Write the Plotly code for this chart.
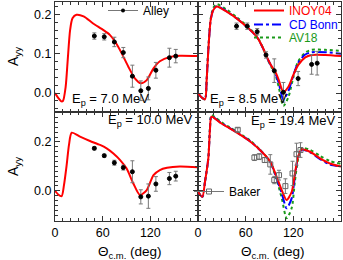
import plotly.graph_objects as go

W, H = 343, 260

# ---------------- data ----------------
# 7.0 MeV, INOY04 curve
th_70 = [0, 4, 8, 10, 13.4, 16, 19, 22, 27, 36, 48, 61, 69, 75.6, 84, 92.3, 100.8, 108, 115.5, 124, 132, 145, 157, 180]
inoy_70 = [0.0, -0.012, -0.021, -0.02, 0.016, 0.084, 0.16, 0.19, 0.199, 0.195, 0.177, 0.160, 0.148, 0.131, 0.101, 0.067, 0.037, 0.025, 0.033, 0.063, 0.081, 0.092, 0.095, 0.094]
# Alley 7.0 MeV data
alley70_th = [49.5, 62, 74.7, 86, 97.4, 108, 117.5, 127, 144, 152]
alley70_a = [0.145, 0.143, 0.13, 0.103, 0.043, 0.006, 0.012, 0.058, 0.09, 0.094]
alley70_e = [0.008, 0.008, 0.012, 0.013, 0.028, 0.025, 0.029, 0.02, 0.024, 0.017]

# 8.5 MeV curves
th_85 = [0, 4, 8.8, 10.9, 13, 16, 19.3, 23.5, 36, 48.5, 61, 74, 82, 86.6, 91.9, 97.5, 101.7, 107.5, 113.8, 120, 126, 135, 143, 160, 180]
inoy_85 = [0.0, -0.01, -0.016, 0.033, 0.11, 0.186, 0.211, 0.22, 0.207, 0.19, 0.169, 0.143, 0.114, 0.092, 0.071, 0.054, 0.033, 0.003, 0.016, 0.046, 0.071, 0.091, 0.097, 0.097, 0.094]
cdb_85 = [0.0, -0.01, -0.016, 0.033, 0.11, 0.186, 0.212, 0.221, 0.208, 0.19, 0.169, 0.143, 0.113, 0.091, 0.07, 0.05, 0.025, -0.016, 0.005, 0.045, 0.077, 0.098, 0.104, 0.104, 0.1]
av18_85 = [0.0, -0.01, -0.016, 0.035, 0.113, 0.19, 0.217, 0.226, 0.212, 0.193, 0.172, 0.145, 0.114, 0.09, 0.068, 0.046, 0.015, -0.033, -0.01, 0.04, 0.08, 0.103, 0.11, 0.11, 0.107]
# Alley 8.5 MeV data
alley85_th = [48.5, 62, 74.5, 85.6, 96, 107.5, 126, 143, 150]
alley85_a = [0.17, 0.17, 0.156, 0.097, 0.057, 0.002, 0.037, 0.073, 0.076]
alley85_e = [0.008, 0.008, 0.008, 0.008, 0.03, 0.025, 0.018, 0.025, 0.03]

# 10.0 MeV, INOY04 curve
th_100 = [0, 4, 8.4, 11.3, 14.7, 17.6, 21, 31.5, 44, 56.7, 65, 73.5, 82, 90, 98.6, 107, 115.5, 124, 132, 141, 157, 180]
inoy_100 = [0.0, -0.015, -0.022, 0.023, 0.106, 0.188, 0.238, 0.222, 0.204, 0.188, 0.174, 0.153, 0.126, 0.092, 0.03, -0.018, 0.003, 0.064, 0.085, 0.094, 0.099, 0.096]
# Alley 10.0 MeV data
alley100_th = [49.5, 62, 74.7, 86, 97.4, 108, 117.5, 127, 144, 152]
alley100_a = [0.174, 0.144, 0.115, 0.095, 0.078, -0.025, -0.022, 0.028, 0.05, 0.06]
alley100_e = [0.006, 0.006, 0.01, 0.01, 0.045, 0.029, 0.05, 0.03, 0.025, 0.02]

# 19.4 MeV curves
th_194 = [0, 5.5, 8.8, 13, 15, 16.8, 21, 29, 40, 50, 66, 78, 91, 99, 105.4, 111.6, 118, 122, 126, 130.6, 141, 153.6, 166, 180]
inoy_194 = [-0.004, -0.025, 0.037, 0.133, 0.25, 0.304, 0.297, 0.277, 0.256, 0.236, 0.201, 0.167, 0.119, 0.057, 0.003, -0.038, -0.004, 0.071, 0.14, 0.17, 0.16, 0.133, 0.112, 0.099]
cdb_194 = [-0.004, -0.025, 0.037, 0.133, 0.25, 0.305, 0.298, 0.278, 0.257, 0.237, 0.202, 0.167, 0.118, 0.05, -0.01, -0.072, -0.03, 0.06, 0.14, 0.168, 0.158, 0.13, 0.108, 0.1]
av18_194 = [-0.004, -0.025, 0.037, 0.135, 0.255, 0.31, 0.303, 0.282, 0.26, 0.24, 0.205, 0.169, 0.118, 0.045, -0.03, -0.113, -0.07, 0.04, 0.13, 0.175, 0.168, 0.143, 0.122, 0.11]
# Baker 19.4 MeV data
baker_th = [50, 71, 77, 84, 91, 96, 102, 110, 119, 124, 129]
baker_a = [0.25, 0.136, 0.14, 0.126, 0.108, 0.044, 0.064, 0.019, 0.071, 0.15, 0.167]
baker_e = [0.008, 0.012, 0.012, 0.01, 0.04, 0.015, 0.02, 0.03, 0.05, 0.045, 0.03]

x_ticks = [0, 60, 120]
x_ticktext = ["0", "60", "120"]

# ---------------- styles ----------------
RED = "#ff0000"
BLUE = "#0000ff"
GREEN = "#1a9a1a"
FONT = "Liberation Sans, Arial, sans-serif"

fig = go.Figure()

def curve(x, y, color, dash, xa, ya, name, legend=None, show=False):
    fig.add_trace(go.Scatter(
        x=x, y=y, mode="lines", name=name,
        line=dict(color=color, width=2, dash=dash, shape="spline", smoothing=0.7),
        xaxis=xa, yaxis=ya, showlegend=show, legend=legend, hoverinfo="skip"))

def points(x, y, e, xa, ya, symbol="circle", color="black"):
    fig.add_trace(go.Scatter(
        x=x, y=y, mode="markers",
        marker=dict(symbol=symbol, size=4 if symbol == "circle" else 5, color=color,
                    line=dict(color=color, width=1)),
        error_y=dict(type="data", array=e, color="#777", thickness=1, width=2),
        xaxis=xa, yaxis=ya, showlegend=False, hoverinfo="skip"))

# panel 1
curve(th_70, inoy_70, RED, "solid", "x", "y", "INOY04")
points(alley70_th, alley70_a, alley70_e, "x", "y")
# panel 2
curve(th_85, av18_85, GREEN, "dot", "x2", "y2", '<span style="color:#1a9a1a">AV18</span>', "legend4", True)
curve(th_85, cdb_85, BLUE, "dashdot", "x2", "y2", '<span style="color:#0000ff">CD Bonn</span>', "legend3", True)
curve(th_85, inoy_85, RED, "solid", "x2", "y2", '<span style="color:#ff0000">INOY04</span>', "legend2", True)
points(alley85_th, alley85_a, alley85_e, "x2", "y2")
# panel 3
curve(th_100, inoy_100, RED, "solid", "x3", "y3", "INOY04")
points(alley100_th, alley100_a, alley100_e, "x3", "y3")
# panel 4
curve(th_194, av18_194, GREEN, "dot", "x4", "y4", "AV18")
curve(th_194, cdb_194, BLUE, "dashdot", "x4", "y4", "CD Bonn")
curve(th_194, inoy_194, RED, "solid", "x4", "y4", "INOY04")
points(baker_th, baker_a, baker_e, "x4", "y4", symbol="square-open", color="#666")

# legend-only entries for the data sets
fig.add_trace(go.Scatter(x=[None], y=[None], mode="lines+markers", name="Alley",
                         line=dict(color="#777", width=1), marker=dict(color="black", size=4),
                         xaxis="x", yaxis="y", legend="legend", showlegend=True))
fig.add_trace(go.Scatter(x=[None], y=[None], mode="lines+markers", name="Baker",
                         line=dict(color="#777", width=1),
                         marker=dict(color="#666", size=5, symbol="square-open"),
                         xaxis="x4", yaxis="y4", legend="legend5", showlegend=True))

xl, xm, xr = 55 / W, 198 / W, 341 / W
yt, ym, yb = 1 - 2 / H, 1 - 112 / H, 1 - 221 / H

def xax(domain, anchor, labels):
    return dict(domain=domain, anchor=anchor, range=[0, 180], tickvals=x_ticks, ticktext=x_ticktext,
                showticklabels=labels, ticks="inside", ticklen=5, tickwidth=1, tickcolor="#333",
                minor=dict(dtick=10, ticks="inside", ticklen=3, tickcolor="#333", tick0=0),
                showline=True, linecolor="#333", linewidth=1, mirror="allticks", automargin=False,
                showgrid=False, zeroline=False, tickfont=dict(size=12.5, color="black", family=FONT))

def yax(domain, anchor, rng, dtick, labels):
    return dict(domain=domain, anchor=anchor, range=rng, dtick=dtick, tick0=0, tickformat=".1f",
                showticklabels=labels, ticks="inside", ticklen=5, tickwidth=1, tickcolor="#333",
                minor=dict(dtick=0.02, ticks="inside", ticklen=3, tickcolor="#333", tick0=0),
                showline=True, linecolor="#333", linewidth=1, mirror="allticks", automargin=False,
                showgrid=False, zeroline=False, tickfont=dict(size=12.5, color="black", family=FONT))

top_rng = [-0.048, 0.2315]
bot_rng = [-0.124, 0.323]

leg_common = dict(bgcolor="rgba(0,0,0,0)", borderwidth=0, font=dict(size=12, family=FONT, color="black"),
                  xanchor="left", yanchor="top", itemwidth=30, tracegroupgap=0)

fig.update_layout(
    width=W, height=H, margin=dict(l=0, r=0, t=0, b=0, autoexpand=False),
    paper_bgcolor="white", plot_bgcolor="white",
    font=dict(family=FONT, color="black"),
    xaxis=xax([xl, xm], "y", False),
    xaxis2=xax([xm, xr], "y2", False),
    xaxis3=xax([xl, xm], "y3", True),
    xaxis4=xax([xm, xr], "y4", True),
    yaxis=yax([ym, yt], "x", top_rng, 0.1, True),
    yaxis2=yax([ym, yt], "x2", top_rng, 0.1, False),
    yaxis3=yax([yb, ym], "x3", bot_rng, 0.2, True),
    yaxis4=yax([yb, ym], "x4", bot_rng, 0.2, False),
    legend=dict(x=103 / W, y=1 + 4 / H, **leg_common),
    legend2=dict(x=249 / W, y=1 + 4 / H, **leg_common),
    legend3=dict(x=249 / W, y=1 - 10 / H, **leg_common),
    legend4=dict(x=249 / W, y=1 - 23 / H, **leg_common),
    legend5=dict(x=189 / W, y=1 - 177 / H, **leg_common),
    showlegend=True,
)

ann_font = dict(size=13, family=FONT, color="black")
notes = [
    ("E<sub>p</sub> = 7.0 MeV", 70, 100),
    ("E<sub>p</sub> = 8.5 MeV", 208, 100),
    ("E<sub>p</sub> = 10.0 MeV", 106, 120),
    ("E<sub>p</sub> = 19.4 MeV", 249, 121),
]
for txt, px, py in notes:
    fig.add_annotation(text=txt, x=px / W, y=1 - py / H, xref="paper", yref="paper",
                       xanchor="left", yanchor="middle", showarrow=False, font=ann_font)

for py in (56, 166):
    fig.add_annotation(text="A<sub>yy</sub>", x=14 / W, y=1 - py / H, xref="paper", yref="paper",
                       xanchor="center", yanchor="middle",
                       textangle=-90, showarrow=False, font=dict(size=14, family=FONT, color="black"))
for px in (130, 273):
    fig.add_annotation(text="Θ<sub>c.m.</sub> (deg)", x=px / W, y=1 - 252 / H, xref="paper", yref="paper",
                       xanchor="center", yanchor="middle",
                       showarrow=False, font=dict(size=13.5, family=FONT, color="black"))

fig.write_html("out.html", post_script="document.body.style.margin='0';",
               config={"displayModeBar": False})
